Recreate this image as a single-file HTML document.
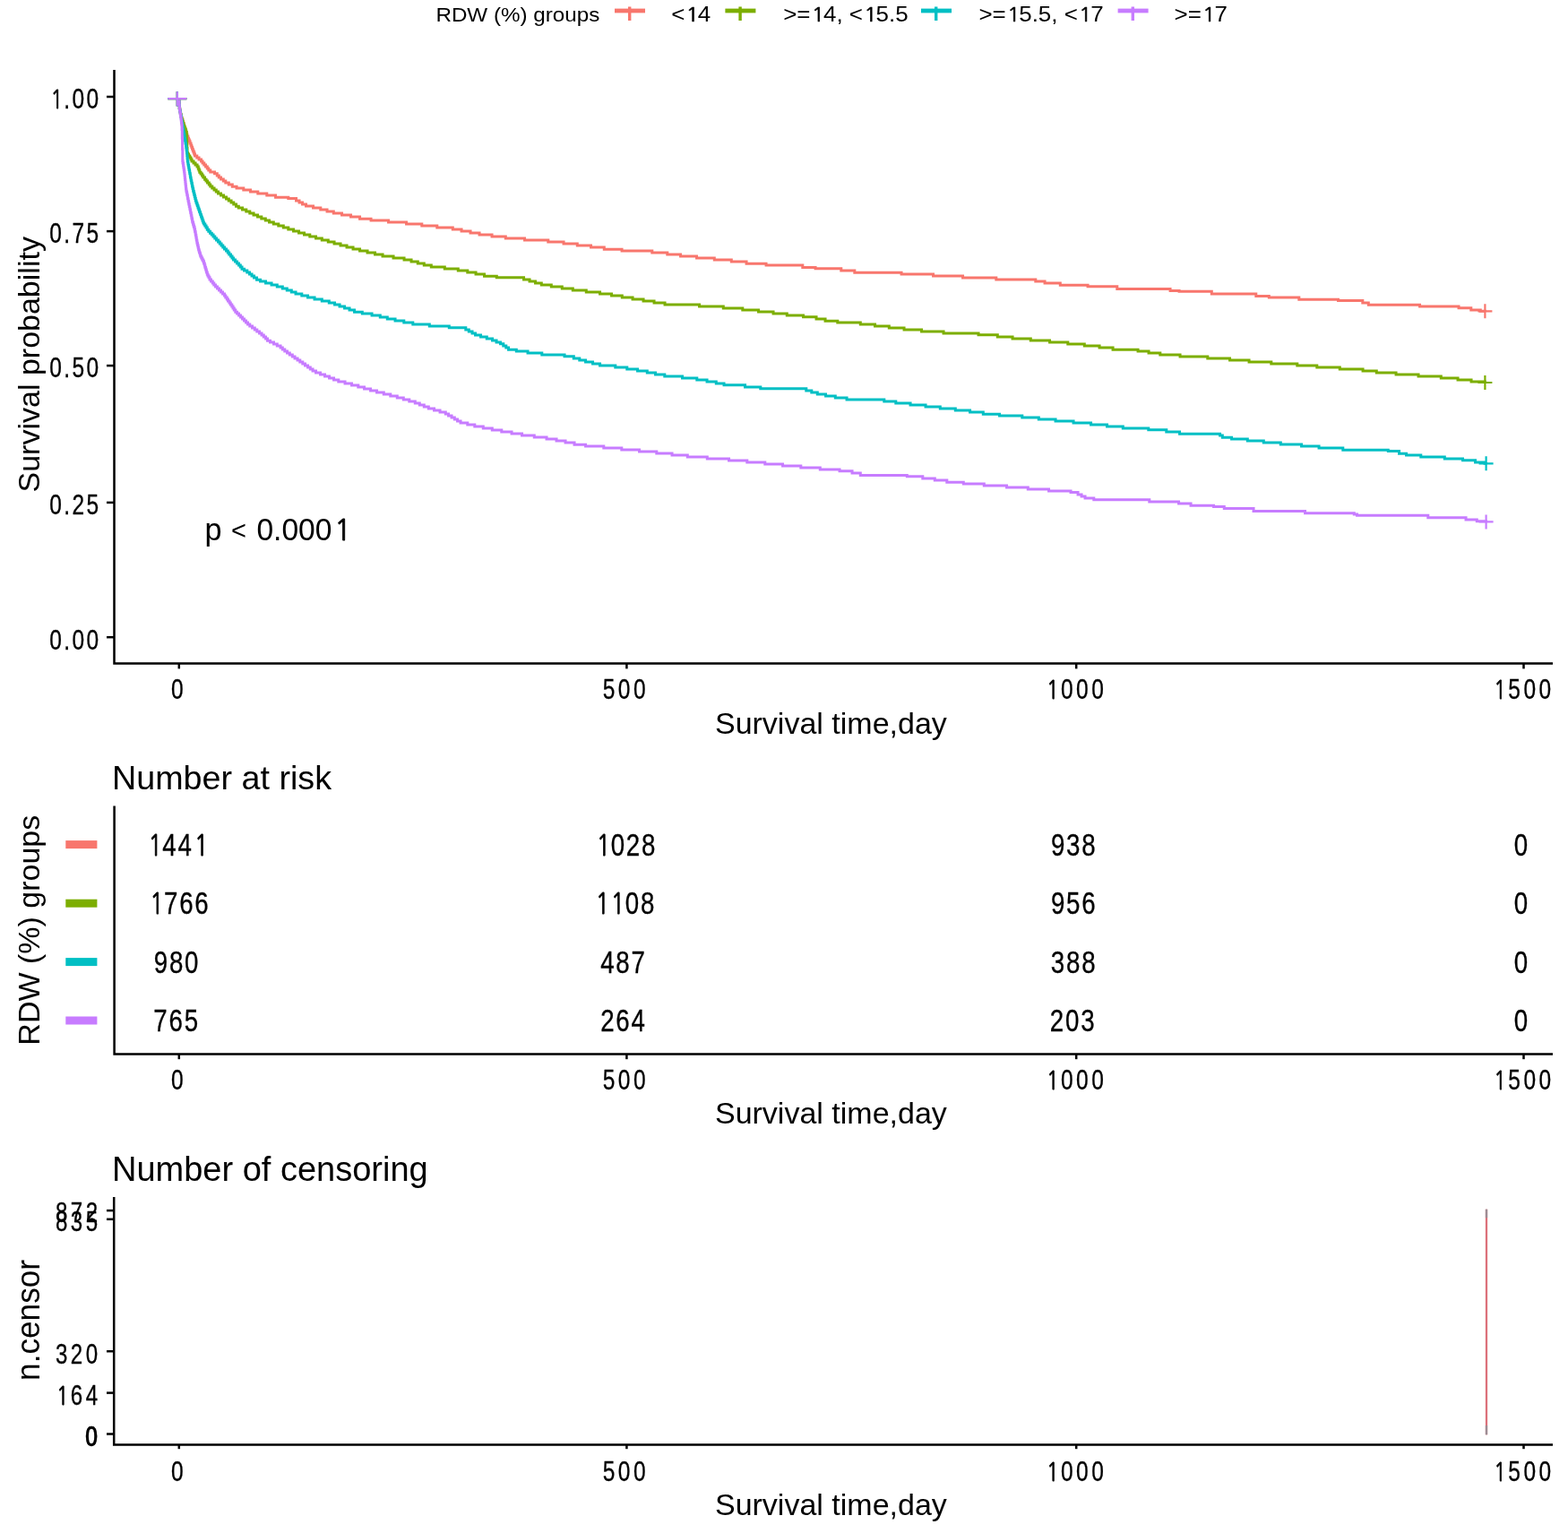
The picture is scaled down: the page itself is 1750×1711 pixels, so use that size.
<!DOCTYPE html>
<html><head><meta charset="utf-8"><title>Kaplan-Meier survival curves by RDW groups</title>
<style>
html,body{margin:0;padding:0;background:#fff;}
body{width:1750px;height:1711px;overflow:hidden;}
svg{display:block;}
text{font-family:'Liberation Sans', Arial, Helvetica, sans-serif;fill:#000;}
.d{stroke:#000;stroke-width:0.35px;}
.one{font-family:NanumGothic,'Liberation Sans',sans-serif;font-size:92.6%;stroke:#000;stroke-width:0.028em;stroke-linejoin:miter;}
</style></head>
<body>
<svg width="1750" height="1711" viewBox="0 0 1750 1711">
<rect width="1750" height="1711" fill="#fff"/>
<text transform="translate(486.4,23.8) scale(1.072,1.0)" font-size="22.6" text-anchor="start">RDW (%) groups</text>
<rect x="686" y="9.6" width="34" height="4.8" fill="#F8766D"/>
<rect x="701" y="7.5" width="3.4" height="15.5" fill="#F8766D"/>
<text transform="translate(749.2,23.8) scale(1.12,1.0)" font-size="23.2" text-anchor="start">&lt;<tspan class="one" dx="1.04" letter-spacing="-1.16">1</tspan>4</text>
<rect x="809.4" y="9.6" width="34" height="4.8" fill="#7CAE00"/>
<rect x="824.4" y="7.5" width="3.4" height="15.5" fill="#7CAE00"/>
<text transform="translate(874.2,23.8) scale(1.12,1.0)" font-size="23.2" text-anchor="start">&gt;=<tspan class="one" dx="1.04" letter-spacing="-1.16">1</tspan>4, &lt;<tspan class="one" dx="1.04" letter-spacing="-1.16">1</tspan>5.5</text>
<rect x="1028" y="9.6" width="34" height="4.8" fill="#00BFC4"/>
<rect x="1043" y="7.5" width="3.4" height="15.5" fill="#00BFC4"/>
<text transform="translate(1092.4,23.8) scale(1.12,1.0)" font-size="23.2" text-anchor="start">&gt;=<tspan class="one" dx="1.04" letter-spacing="-1.16">1</tspan>5.5, &lt;<tspan class="one" dx="1.04" letter-spacing="-1.16">1</tspan>7</text>
<rect x="1247.6" y="9.6" width="34" height="4.8" fill="#C77CFF"/>
<rect x="1262.6" y="7.5" width="3.4" height="15.5" fill="#C77CFF"/>
<text transform="translate(1310.6,23.8) scale(1.12,1.0)" font-size="23.2" text-anchor="start">&gt;=<tspan class="one" dx="1.04" letter-spacing="-1.16">1</tspan>7</text>
<path d="M199.80,110.00H199.80V113.75H200.05V117.50H200.30V120.75H200.55V122.00H200.80V123.88H201.30V125.75H201.55V127.63H202.05V130.08H202.55V131.86H203.05V133.86H203.80V135.86H204.30V137.87H205.05V139.99H205.55V141.74H206.05V143.93H206.80V145.98H207.30V147.68H208.05V149.73H208.80V152.03H209.80V154.16H210.55V155.97H211.30V157.78H212.05V160.00H213.05V162.28H213.80V164.24H214.55V166.19H215.30V168.15H216.05V170.10H216.80V172.06H217.55V174.03H219.80V175.94H222.05V177.97H224.55V180.01H226.05V181.89H227.80V183.92H229.55V185.99H231.30V187.97H232.80V190.07H234.80V191.99H239.55V193.77H242.30V195.98H244.30V198.09H246.55V200.05H249.30V202.01H251.80V204.08H255.30V206.01H259.30V208.14H264.05V210.00H271.80V211.98H279.55V214.03H287.80V216.01H297.80V218.00H307.55V220.14H321.80V221.59H330.55V223.97H334.05V225.99H337.55V228.12H341.55V230.00H349.55V231.99H357.80V234.01H365.05V236.02H372.30V238.08H381.55V240.01H391.55V242.01H401.55V244.15H414.05V246.01H433.55V248.01H453.55V249.93H470.80V252.07H487.80V253.89H505.30V255.99H515.05V257.99H525.05V260.00H535.05V262.06H549.05V263.98H564.30V266.12H585.55V268.00H611.80V269.90H629.05V271.98H644.30V273.99H659.55V276.00H674.30V278.18H694.05V280.00H727.80V281.90H744.80V284.00H759.55V286.07H777.55V288.00H797.30V289.96H816.30V292.00H833.05V294.18H855.05V295.92H895.80V298.49H910.05V299.80H938.80V302.00H953.80V304.22H1006.05V305.91H1041.55V308.02H1074.55V310.07H1111.80V311.92H1155.80V314.01H1166.05V316.11H1183.30V318.14H1214.05V319.83H1246.80V322.53H1306.05V324.52H1316.05V325.35H1352.30V327.95H1401.80V330.50H1416.30V332.01H1449.80V334.16H1493.55V335.51H1520.80V337.98H1527.30V340.22H1584.55V341.93H1628.05V343.81H1641.80V346.01H1652.30V347.15H1657.30V347.30" stroke="#F8766D" stroke-width="3" fill="none" stroke-linejoin="miter"/>
<path d="M199.80,110.00H199.80V113.75H200.05V117.50H200.30V120.75H200.55V122.00H200.80V123.88H201.30V125.75H201.55V127.63H202.05V130.08H202.55V131.86H203.05V133.86H203.80V135.86H204.30V137.85H205.05V140.00H205.80V142.05H206.55V144.10H207.30V145.96H207.80V147.50H208.30V150.50H208.55V160.50H208.80V165.50H209.05V170.72H209.55V172.00H210.55V173.94H211.80V176.09H213.05V178.03H214.05V179.97H216.05V181.98H218.05V183.98H220.05V185.91H221.30V188.21H222.05V190.05H222.80V192.19H224.05V194.12H225.55V196.01H226.80V198.01H228.55V200.14H230.05V202.08H231.55V204.04H233.30V205.96H234.80V208.02H236.80V210.03H239.05V211.98H241.30V213.93H243.55V215.95H246.55V217.95H249.55V219.95H252.55V221.97H255.30V223.98H258.05V225.98H260.80V228.00H263.55V230.15H266.30V232.00H270.55V234.03H274.80V235.99H278.80V237.96H283.05V240.03H287.55V242.03H291.80V244.02H296.30V246.02H300.55V248.05H305.30V250.01H310.80V252.01H316.30V254.00H321.80V256.00H327.55V257.96H333.55V259.96H339.55V261.99H345.80V263.98H352.55V265.97H359.30V268.00H366.30V270.00H373.05V271.99H380.05V274.01H387.05V275.99H394.05V278.01H401.55V280.00H410.05V282.01H418.55V284.01H427.05V285.98H439.05V287.99H451.05V289.93H459.05V292.02H466.30V294.00H473.30V296.07H481.30V298.00H496.30V300.01H511.30V301.94H521.80V304.01H531.05V306.00H540.55V308.28H554.30V309.81H584.55V312.02H591.05V313.99H597.55V315.99H604.30V318.09H615.30V320.01H627.30V322.01H639.30V324.01H654.30V325.99H669.55V327.95H682.55V330.01H694.30V332.00H706.05V333.99H718.05V335.99H730.05V337.98H742.05V340.03H780.55V341.90H807.30V343.93H828.80V346.00H846.55V347.97H863.05V350.01H878.30V352.05H896.55V353.82H911.05V356.00H921.05V358.21H934.80V360.00H960.30V361.95H976.55V364.03H992.30V366.00H1009.05V368.10H1028.55V370.01H1053.05V372.02H1092.05V373.83H1113.30V376.01H1130.05V378.05H1150.30V380.00H1171.55V382.01H1191.80V383.96H1210.30V386.01H1227.05V387.94H1242.05V390.21H1270.05V392.00H1282.05V394.07H1294.80V396.00H1317.05V398.04H1347.80V399.88H1372.55V402.04H1394.05V404.02H1418.80V406.00H1447.80V407.94H1469.80V410.10H1495.30V411.88H1521.05V414.00H1536.30V416.11H1558.05V418.00H1583.05V420.00H1608.30V421.89H1627.05V424.00H1642.05V425.99H1657.30V427.00" stroke="#7CAE00" stroke-width="3" fill="none" stroke-linejoin="miter"/>
<path d="M199.80,110.00H199.80V113.75H200.05V117.50H200.30V120.78H200.55V122.17H200.80V124.25H201.30V126.33H201.55V127.72H201.80V129.81H202.30V131.97H202.55V134.18H203.05V136.38H203.30V137.85H203.55V140.05H204.05V142.17H204.30V144.25H204.80V146.33H205.05V147.72H205.30V149.81H205.80V151.97H206.05V154.18H206.55V156.38H206.80V157.85H207.05V160.09H207.55V162.68H207.80V164.50H208.05V166.32H208.30V168.14H208.55V170.86H208.80V173.80H209.05V176.74H209.30V180.07H209.80V182.13H210.05V184.20H210.55V186.27H210.80V187.65H211.05V189.72H211.55V191.78H211.80V193.85H212.30V195.92H212.55V197.97H213.05V199.88H213.30V201.72H213.80V204.18H214.30V206.03H214.55V207.88H215.05V210.34H215.55V212.01H215.80V213.52H216.30V215.53H216.80V217.55H217.30V219.56H217.80V221.58H218.30V224.00H219.05V226.23H219.80V228.01H220.30V229.79H221.05V231.92H221.80V234.06H222.55V236.19H223.30V237.98H223.80V239.78H224.55V241.94H225.30V244.10H226.05V246.25H226.80V248.35H227.55V250.12H228.80V252.10H230.05V254.08H231.30V256.18H232.80V258.13H234.55V260.14H236.30V262.12H238.05V264.03H239.80V265.93H241.55V267.97H243.55V270.03H245.30V272.01H247.05V273.98H248.80V275.94H250.55V278.02H252.55V280.10H254.30V281.96H255.80V284.03H257.55V286.10H259.05V288.01H260.55V289.88H262.55V291.88H264.55V293.90H266.55V295.97H268.30V297.95H270.05V300.15H272.55V302.05H275.80V304.02H278.55V306.09H281.05V308.08H283.55V310.03H286.55V312.14H290.55V313.99H296.55V315.99H303.05V318.01H309.30V320.02H315.30V321.95H320.30V323.99H325.30V325.98H330.05V327.97H336.80V329.97H343.55V332.05H351.05V334.02H359.30V336.00H367.30V337.89H373.55V339.98H379.05V341.97H384.55V343.96H390.05V345.96H395.55V348.13H404.30V350.00H415.05V351.93H424.30V354.02H432.30V356.08H441.05V358.00H450.80V359.99H460.80V362.10H479.30V364.03H501.30V365.81H519.80V368.03H523.30V370.03H527.05V372.03H530.55V374.06H536.55V375.96H543.30V377.91H549.55V379.99H554.05V382.00H558.55V383.87H561.80V385.98H564.80V387.97H567.55V390.15H576.30V392.09H589.05V394.00H604.80V396.02H630.05V397.68H640.30V399.99H646.80V402.03H653.55V403.97H661.55V405.97H669.55V408.06H686.80V410.00H699.80V411.96H711.55V413.97H722.30V416.02H731.55V418.09H741.80V419.99H761.55V421.95H777.80V423.91H789.05V425.98H799.30V427.98H808.05V429.79H831.55V432.09H848.80V433.84H899.80V435.99H905.80V437.99H912.30V440.06H921.55V442.06H932.30V444.01H945.05V446.07H986.80V448.08H999.80V449.99H1016.05V451.99H1033.05V453.98H1049.30V456.01H1066.30V457.97H1082.55V460.00H1097.30V462.13H1115.55V463.91H1140.80V465.99H1159.30V468.00H1178.05V470.00H1198.05V471.97H1217.55V474.00H1235.55V476.00H1253.30V478.07H1281.80V479.83H1301.80V482.00H1316.55V484.32H1361.55V486.03H1364.30V488.27H1374.55V490.06H1392.30V491.97H1410.30V494.06H1429.30V496.00H1452.55V498.00H1472.05V500.06H1498.80V502.15H1549.30V503.59H1561.55V506.15H1569.55V508.00H1585.80V510.02H1612.30V511.93H1632.55V513.84H1646.55V516.00H1657.05V517.17H1658.55V517.30" stroke="#00BFC4" stroke-width="3" fill="none" stroke-linejoin="miter"/>
<path d="M199.80,110.00H199.80V113.75H200.05V117.50H200.30V120.83H200.55V122.50H200.80V124.17H201.05V125.83H201.30V127.50H201.55V130.04H202.05V133.00H202.30V135.08H202.55V137.17H202.80V139.25H203.05V144.36H203.30V154.01H203.55V166.23H203.80V179.44H204.05V181.96H204.55V184.49H204.80V186.17H205.05V187.86H205.30V189.54H205.55V191.23H205.80V193.35H206.05V195.76H206.30V198.17H206.55V200.59H206.80V203.00H207.05V205.41H207.30V207.82H207.55V210.24H207.80V211.97H208.05V213.91H208.55V215.84H208.80V217.78H209.30V219.71H209.55V221.65H210.05V224.21H210.55V226.07H210.80V227.92H211.30V230.38H211.80V232.22H212.05V234.07H212.55V235.92H212.80V237.78H213.30V240.28H213.80V242.15H214.05V244.03H214.55V245.90H214.80V248.05H215.55V250.21H216.05V251.91H216.55V253.61H217.05V255.80H217.55V258.27H218.05V260.11H218.30V262.13H218.80V264.32H219.05V265.79H219.30V267.98H219.80V269.97H220.05V271.64H220.55V273.86H221.05V276.09H221.55V278.22H222.05V279.93H222.55V281.98H223.30V284.03H223.80V285.95H224.80V287.95H225.80V289.95H226.80V291.76H227.55V294.04H228.30V296.09H228.80V298.14H229.55V300.25H230.05V301.95H230.55V304.07H231.30V306.19H232.05V307.91H233.05V309.87H234.05V311.91H235.55V314.01H237.30V315.98H238.80V317.88H240.55V319.95H242.55V321.91H244.55V323.88H246.55V325.88H248.55V327.91H250.55V330.05H251.80V332.06H253.30V334.06H254.55V336.07H256.05V338.08H257.30V340.08H258.80V342.09H260.05V343.91H261.30V345.92H262.80V348.14H264.55V350.06H266.55V352.05H268.55V354.03H270.55V356.02H272.55V358.00H274.55V359.99H276.55V362.02H278.80V363.95H281.55V366.01H284.30V367.98H286.80V369.95H289.55V371.93H292.05V373.98H294.30V376.07H296.55V378.04H298.55V380.16H301.55V382.05H305.55V384.00H309.30V385.91H313.05V388.02H315.30V390.10H317.80V392.03H320.55V393.95H323.30V395.96H326.30V397.97H329.05V399.97H332.05V401.98H334.80V403.99H337.80V406.01H340.55V408.03H343.55V410.04H346.30V411.97H349.05V414.10H352.55V416.01H357.55V418.02H362.55V420.02H367.55V422.02H372.55V424.07H377.80V426.00H385.05V427.99H392.55V430.00H399.80V432.00H406.55V433.98H413.55V435.99H420.55V438.00H428.30V440.02H435.80V442.01H443.30V443.98H450.30V446.01H456.80V447.98H463.30V450.00H468.30V451.99H473.30V453.98H478.30V456.05H484.55V458.01H491.05V459.95H497.30V461.97H500.55V463.99H504.05V466.01H507.30V467.96H510.55V469.98H514.05V472.04H521.80V474.02H529.80V476.04H539.30V477.98H549.30V480.01H559.80V482.01H571.05V484.04H582.55V485.99H596.30V488.00H610.05V489.92H621.05V491.99H631.05V494.00H641.05V496.16H653.55V498.01H673.80V500.01H693.80V502.00H713.55V503.97H732.80V506.00H750.05V508.00H767.30V510.08H789.30V511.96H813.55V514.01H833.80V516.01H853.80V518.00H873.55V520.01H893.80V521.99H915.30V524.00H937.05V525.79H951.05V528.00H960.30V530.41H1012.30V531.78H1029.80V534.01H1043.30V536.01H1056.80V538.13H1075.30V540.01H1098.30V542.00H1123.55V543.97H1147.30V546.02H1170.55V548.01H1195.05V549.60H1203.05V551.99H1207.05V553.99H1211.05V556.03H1220.80V557.87H1282.80V560.00H1315.55V562.01H1329.05V564.29H1354.55V565.47H1366.30V567.56H1399.05V570.58H1456.55V572.77H1511.30V574.01H1514.55V575.31H1593.80V577.83H1636.05V580.10H1648.30V581.71H1658.55V582.40" stroke="#C77CFF" stroke-width="3" fill="none" stroke-linejoin="miter"/>
<path d="M1649.4,347.3H1665.4M1657.4,339.3V355.3" stroke="#F8766D" stroke-width="2.2" fill="none"/>
<path d="M1649.4,427.0H1665.4M1657.4,419.0V435.0" stroke="#7CAE00" stroke-width="2.2" fill="none"/>
<path d="M1650.6,517.3H1666.6M1658.6,509.3V525.3" stroke="#00BFC4" stroke-width="2.2" fill="none"/>
<path d="M1650.6,582.4H1666.6M1658.6,574.4V590.4" stroke="#C77CFF" stroke-width="2.2" fill="none"/>
<path d="M187.3,110.2H208.3M197.8,102.2V118.4" stroke="#F8766D" stroke-width="2.2" fill="none"/>
<path d="M187.3,110.2H208.3M197.8,102.2V118.4" stroke="#7CAE00" stroke-width="2.2" fill="none"/>
<path d="M187.3,110.2H208.3M197.8,102.2V118.4" stroke="#00BFC4" stroke-width="2.2" fill="none"/>
<path d="M187.3,110.2H208.3M197.8,102.2V118.4" stroke="#C77CFF" stroke-width="2.2" fill="none"/>
<path d="M127.5,78V740.4H1733" stroke="#000" stroke-width="2.5" fill="none"/>
<path d="M119,108.0H127.5" stroke="#000" stroke-width="2.5"/>
<text transform="translate(111.38,120.6) scale(0.79,1.0)" font-size="31" text-anchor="end" letter-spacing="3.0" class="d"><tspan class="one" dx="1.40" letter-spacing="1.45">1</tspan>.00</text>
<path d="M119,258.1H127.5" stroke="#000" stroke-width="2.5"/>
<text transform="translate(112.5,271.1) scale(0.79,1.0)" font-size="31" text-anchor="end" letter-spacing="3.0" class="d">0.75</text>
<path d="M119,408.1H127.5" stroke="#000" stroke-width="2.5"/>
<text transform="translate(112.5,421.3) scale(0.79,1.0)" font-size="31" text-anchor="end" letter-spacing="3.0" class="d">0.50</text>
<path d="M119,560.9H127.5" stroke="#000" stroke-width="2.5"/>
<text transform="translate(112.5,574.1) scale(0.79,1.0)" font-size="31" text-anchor="end" letter-spacing="3.0" class="d">0.25</text>
<path d="M119,711.2H127.5" stroke="#000" stroke-width="2.5"/>
<text transform="translate(112.5,724.5) scale(0.79,1.0)" font-size="31" text-anchor="end" letter-spacing="3.0" class="d">0.00</text>
<path d="M199.8,740.4V746.4" stroke="#000" stroke-width="2.5"/>
<text transform="translate(199.55,780.1) scale(0.79,1.0)" font-size="31" text-anchor="middle" letter-spacing="4.4" class="d">0</text>
<path d="M699.4,740.4V746.4" stroke="#000" stroke-width="2.5"/>
<text transform="translate(698.4,780.1) scale(0.79,1.0)" font-size="31" text-anchor="middle" letter-spacing="4.4" class="d">500</text>
<path d="M1201.2,740.4V746.4" stroke="#000" stroke-width="2.5"/>
<text transform="translate(1200.53,780.1) scale(0.79,1.0)" font-size="31" text-anchor="middle" letter-spacing="4.4" class="d"><tspan class="one" dx="1.40" letter-spacing="2.85">1</tspan>000</text>
<path d="M1700.5,740.4V746.4" stroke="#000" stroke-width="2.5"/>
<text transform="translate(1699.88,780.1) scale(0.79,1.0)" font-size="31" text-anchor="middle" letter-spacing="4.4" class="d"><tspan class="one" dx="1.40" letter-spacing="2.85">1</tspan>500</text>
<text transform="translate(927.4,818.6)" font-size="34" text-anchor="middle">Survival time,day</text>
<text transform="translate(43.6,406.8) rotate(-90)" font-size="34" text-anchor="middle">Survival probability</text>
<text transform="translate(228.6,603.4)" font-size="34.2" text-anchor="start">p</text>
<text transform="translate(258.0,601.6)" font-size="29" text-anchor="start">&lt;</text>
<text transform="translate(286.4,603.4) scale(0.973,1.0)" font-size="34.5" text-anchor="start">0.000<tspan class="one" dx="3.10" letter-spacing="-3.28">1</tspan></text>
<text transform="translate(125,881.4)" font-size="37.7" text-anchor="start">Number at risk</text>
<path d="M127.6,899.5V1176.6H1733" stroke="#000" stroke-width="2.5" fill="none"/>
<rect x="73.3" y="938.1" width="35.1" height="9" fill="#F8766D"/>
<text transform="translate(197.87,954.5) scale(0.8,1.0)" font-size="34.6" text-anchor="middle" letter-spacing="2.2" class="d"><tspan class="one" dx="1.56" letter-spacing="0.47">1</tspan>44<tspan class="one" dx="1.56" letter-spacing="0.47">1</tspan></text>
<text transform="translate(698.17,954.5) scale(0.8,1.0)" font-size="34.6" text-anchor="middle" letter-spacing="2.2" class="d"><tspan class="one" dx="1.56" letter-spacing="0.47">1</tspan>028</text>
<text transform="translate(1198.7,954.5) scale(0.8,1.0)" font-size="34.6" text-anchor="middle" letter-spacing="2.2" class="d">938</text>
<text transform="translate(1698.2,954.5) scale(0.8,1.0)" font-size="34.6" text-anchor="middle" letter-spacing="2.2" class="d">0</text>
<rect x="73.3" y="1003.7" width="35.1" height="9" fill="#7CAE00"/>
<text transform="translate(199.57,1020.1) scale(0.8,1.0)" font-size="34.6" text-anchor="middle" letter-spacing="2.2" class="d"><tspan class="one" dx="1.56" letter-spacing="0.47">1</tspan>766</text>
<text transform="translate(697.15,1020.1) scale(0.8,1.0)" font-size="34.6" text-anchor="middle" letter-spacing="2.2" class="d"><tspan class="one" dx="1.56" letter-spacing="0.47">1</tspan><tspan class="one" dx="1.56" letter-spacing="0.47">1</tspan>08</text>
<text transform="translate(1198.7,1020.1) scale(0.8,1.0)" font-size="34.6" text-anchor="middle" letter-spacing="2.2" class="d">956</text>
<text transform="translate(1698.2,1020.1) scale(0.8,1.0)" font-size="34.6" text-anchor="middle" letter-spacing="2.2" class="d">0</text>
<rect x="73.3" y="1069.1" width="35.1" height="9" fill="#00BFC4"/>
<text transform="translate(197.5,1085.5) scale(0.8,1.0)" font-size="34.6" text-anchor="middle" letter-spacing="2.2" class="d">980</text>
<text transform="translate(695.9,1085.5) scale(0.8,1.0)" font-size="34.6" text-anchor="middle" letter-spacing="2.2" class="d">487</text>
<text transform="translate(1198.6,1085.5) scale(0.8,1.0)" font-size="34.6" text-anchor="middle" letter-spacing="2.2" class="d">388</text>
<text transform="translate(1698.2,1085.5) scale(0.8,1.0)" font-size="34.6" text-anchor="middle" letter-spacing="2.2" class="d">0</text>
<rect x="73.3" y="1134.5" width="35.1" height="9" fill="#C77CFF"/>
<text transform="translate(197.1,1150.9) scale(0.8,1.0)" font-size="34.6" text-anchor="middle" letter-spacing="2.2" class="d">765</text>
<text transform="translate(695.9,1150.9) scale(0.8,1.0)" font-size="34.6" text-anchor="middle" letter-spacing="2.2" class="d">264</text>
<text transform="translate(1197.6,1150.9) scale(0.8,1.0)" font-size="34.6" text-anchor="middle" letter-spacing="2.2" class="d">203</text>
<text transform="translate(1698.2,1150.9) scale(0.8,1.0)" font-size="34.6" text-anchor="middle" letter-spacing="2.2" class="d">0</text>
<path d="M199.8,1176.6V1182.2" stroke="#000" stroke-width="2.5"/>
<text transform="translate(199.55,1216) scale(0.79,1.0)" font-size="31" text-anchor="middle" letter-spacing="4.4" class="d">0</text>
<path d="M699.4,1176.6V1182.2" stroke="#000" stroke-width="2.5"/>
<text transform="translate(698.4,1216) scale(0.79,1.0)" font-size="31" text-anchor="middle" letter-spacing="4.4" class="d">500</text>
<path d="M1201.2,1176.6V1182.2" stroke="#000" stroke-width="2.5"/>
<text transform="translate(1200.53,1216) scale(0.79,1.0)" font-size="31" text-anchor="middle" letter-spacing="4.4" class="d"><tspan class="one" dx="1.40" letter-spacing="2.85">1</tspan>000</text>
<path d="M1700.5,1176.6V1182.2" stroke="#000" stroke-width="2.5"/>
<text transform="translate(1699.88,1216) scale(0.79,1.0)" font-size="31" text-anchor="middle" letter-spacing="4.4" class="d"><tspan class="one" dx="1.40" letter-spacing="2.85">1</tspan>500</text>
<text transform="translate(927.4,1254.3)" font-size="34" text-anchor="middle">Survival time,day</text>
<text transform="translate(43.8,1038.2) rotate(-90)" font-size="34" text-anchor="middle">RDW (%) groups</text>
<text transform="translate(125,1318)" font-size="38" text-anchor="start">Number of censoring</text>
<path d="M1659,1349.7V1601.3" stroke="#DC707A" stroke-width="2.3"/>
<path d="M1659,1349.7V1359.3M1659,1591V1601.3" stroke="#9C8C94" stroke-width="2.3"/>
<path d="M127.2,1336V1612.4H1733" stroke="#000" stroke-width="2.5" fill="none"/>
<path d="M119,1351.1H127.5" stroke="#000" stroke-width="2.5"/>
<text transform="translate(112.60000000000001,1363.8) scale(0.79,1.0)" font-size="30.5" text-anchor="end" letter-spacing="4.4" class="d">872</text>
<path d="M119,1360.8H127.5" stroke="#000" stroke-width="2.5"/>
<text transform="translate(112.60000000000001,1374.0) scale(0.79,1.0)" font-size="30.5" text-anchor="end" letter-spacing="4.4" class="d">835</text>
<path d="M119,1508.2H127.5" stroke="#000" stroke-width="2.5"/>
<text transform="translate(112.60000000000001,1521.85) scale(0.79,1.0)" font-size="30.5" text-anchor="end" letter-spacing="4.4" class="d">320</text>
<path d="M119,1554.6H127.5" stroke="#000" stroke-width="2.5"/>
<text transform="translate(111.5,1568.05) scale(0.79,1.0)" font-size="30.5" text-anchor="end" letter-spacing="4.4" class="d"><tspan class="one" dx="1.37" letter-spacing="2.88">1</tspan>64</text>
<path d="M119,1600.5H127.5" stroke="#000" stroke-width="2.5"/>
<text transform="translate(112.60000000000001,1613.55) scale(0.79,1.0)" font-size="30.5" text-anchor="end" letter-spacing="4.4" class="d">0</text>
<text transform="translate(111.9,1613.55) scale(0.79,1.0)" font-size="30.5" text-anchor="end" letter-spacing="4.4" class="d">0</text>
<path d="M199.8,1612.4V1617.2" stroke="#000" stroke-width="2.5"/>
<text transform="translate(199.55,1653) scale(0.79,1.0)" font-size="31" text-anchor="middle" letter-spacing="4.4" class="d">0</text>
<path d="M699.4,1612.4V1617.2" stroke="#000" stroke-width="2.5"/>
<text transform="translate(698.4,1653) scale(0.79,1.0)" font-size="31" text-anchor="middle" letter-spacing="4.4" class="d">500</text>
<path d="M1201.2,1612.4V1617.2" stroke="#000" stroke-width="2.5"/>
<text transform="translate(1200.53,1653) scale(0.79,1.0)" font-size="31" text-anchor="middle" letter-spacing="4.4" class="d"><tspan class="one" dx="1.40" letter-spacing="2.85">1</tspan>000</text>
<path d="M1700.5,1612.4V1617.2" stroke="#000" stroke-width="2.5"/>
<text transform="translate(1699.88,1653) scale(0.79,1.0)" font-size="31" text-anchor="middle" letter-spacing="4.4" class="d"><tspan class="one" dx="1.40" letter-spacing="2.85">1</tspan>500</text>
<text transform="translate(927.4,1690.5)" font-size="34" text-anchor="middle">Survival time,day</text>
<text transform="translate(44.3,1473.4) rotate(-90) scale(1.0,1.075)" font-size="35.2" text-anchor="middle">n.censor</text>
</svg>
</body></html>
